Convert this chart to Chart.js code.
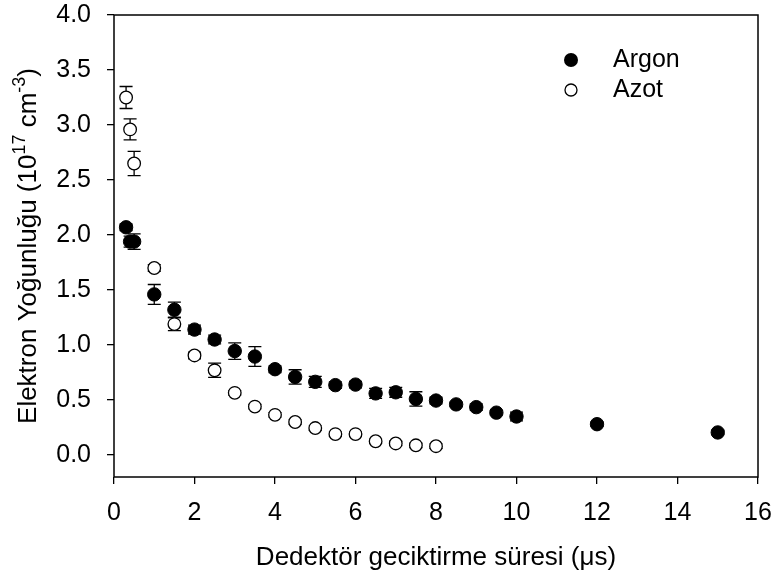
<!DOCTYPE html>
<html><head><meta charset="utf-8">
<script src="https://cdn.jsdelivr.net/npm/chart.js@4/dist/chart.umd.min.js"></script>
<style>html,body{margin:0;padding:0;background:#fff;} canvas{display:block;}</style>
</head><body>
<canvas id="c" width="775" height="578"></canvas>
<script>
// ---- data ----
const argonX   = [0.3, 0.4, 0.5, 1, 1.5, 2, 2.5, 3, 3.5, 4, 4.5, 5, 5.5, 6, 6.5, 7, 7.5, 8, 8.5, 9, 9.5, 10, 12, 15];
const argonY   = [2.07, 1.94, 1.94, 1.46, 1.32, 1.14, 1.05, 0.945, 0.895, 0.78, 0.71, 0.665, 0.635, 0.64, 0.56, 0.57, 0.51, 0.495, 0.46, 0.435, 0.385, 0.35, 0.28, 0.205];
const argonErr = [0.03, 0.05, 0.07, 0.09, 0.07, 0.04, 0.04, 0.075, 0.09, 0.03, 0.065, 0.05, 0.03, 0.03, 0.045, 0.045, 0.065, 0.03, 0.02, 0.03, 0.02, 0.04, 0.02, 0.02];
const azotX    = [0.3, 0.4, 0.5, 1, 1.5, 2, 2.5, 3, 3.5, 4, 4.5, 5, 5.5, 6, 6.5, 7, 7.5, 8];
const azotY    = [3.25, 2.96, 2.65, 1.70, 1.19, 0.905, 0.77, 0.565, 0.44, 0.365, 0.30, 0.245, 0.19, 0.19, 0.125, 0.105, 0.088, 0.08];
const azotErr  = [0.10, 0.095, 0.11, 0.03, 0.06, 0.03, 0.065, 0.02, 0.02, 0.02, 0.02, 0.02, 0.02, 0.02, 0.02, 0.02, 0.02, 0.02];
const seriesNames = ['Argon', 'Azot'];
const xTicks = [0, 2, 4, 6, 8, 10, 12, 14, 16];
const yTicks = [0, 0.5, 1.0, 1.5, 2.0, 2.5, 3.0, 3.5, 4.0];
const xTitle = 'Dedektör geciktirme süresi (\u03BCs)';
const yTitleParts = [['Elektron Yoğunluğu (10', false], ['17', true], [' cm', false], ['-3', true], [')', false]];

const FONT = '"Liberation Sans", Arial, sans-serif';

const toPoints = (xs, ys) => xs.map((x, i) => ({x: x, y: ys[i]}));

const errorBars = {
  id: 'errorBars',
  beforeDatasetsDraw(chart) {
    const ctx = chart.ctx, xs = chart.scales.x, ys = chart.scales.y;
    const errs = [argonErr, azotErr];
    ctx.save();
    ctx.strokeStyle = '#000';
    ctx.lineWidth = 1.3;
    chart.data.datasets.forEach((ds, di) => {
      ds.data.forEach((p, i) => {
        const e = errs[di][i];
        const px = xs.getPixelForValue(p.x);
        const y1 = ys.getPixelForValue(p.y + e), y2 = ys.getPixelForValue(p.y - e);
        ctx.beginPath();
        ctx.moveTo(px, y1); ctx.lineTo(px, y2);
        ctx.moveTo(px - 6.5, y1); ctx.lineTo(px + 6.5, y1);
        ctx.moveTo(px - 6.5, y2); ctx.lineTo(px + 6.5, y2);
        ctx.stroke();
      });
    });
    ctx.restore();
  }
};

const frameAndText = {
  id: 'frameAndText',
  afterDraw(chart) {
    const ctx = chart.ctx, a = chart.chartArea;
    ctx.save();
    ctx.strokeStyle = '#000';
    ctx.lineWidth = 1.5;
    ctx.strokeRect(a.left, a.top, a.right - a.left, a.bottom - a.top);

    // legend
    ctx.fillStyle = '#000';
    ctx.font = '25px ' + FONT;
    ctx.textBaseline = 'middle';
    ctx.textAlign = 'left';
    ctx.beginPath(); ctx.arc(571, 60, 7, 0, Math.PI * 2); ctx.fill();
    ctx.fillText(seriesNames[0], 613, 60);
    ctx.beginPath(); ctx.arc(571, 90, 6, 0, Math.PI * 2);
    ctx.fillStyle = '#fff'; ctx.fill();
    ctx.lineWidth = 1.3; ctx.strokeStyle = '#000'; ctx.stroke();
    ctx.fillStyle = '#000';
    ctx.fillText(seriesNames[1], 613, 90);

    // y title with superscripts
    const fMain = '26px ' + FONT, fSup = '18px ' + FONT;
    let total = 0;
    yTitleParts.forEach(([t, sup]) => { ctx.font = sup ? fSup : fMain; total += ctx.measureText(t).width; });
    ctx.translate(36, (a.top + a.bottom) / 2);
    ctx.rotate(-Math.PI / 2);
    ctx.textBaseline = 'alphabetic';
    let x = -total / 2;
    yTitleParts.forEach(([t, sup]) => {
      ctx.font = sup ? fSup : fMain;
      ctx.fillText(t, x, sup ? -11 : 0);
      x += ctx.measureText(t).width;
    });
    ctx.restore();
  }
};

new Chart(document.getElementById('c'), {
  type: 'scatter',
  data: {
    datasets: [
      {
        label: seriesNames[0],
        data: toPoints(argonX, argonY),
        pointRadius: 6.7,
        pointBackgroundColor: '#000',
        pointBorderColor: '#000',
        pointBorderWidth: 1,
        showLine: false,
        order: 1
      },
      {
        label: seriesNames[1],
        data: toPoints(azotX, azotY),
        pointRadius: 6.3,
        pointBackgroundColor: '#fff',
        pointBorderColor: '#000',
        pointBorderWidth: 1.3,
        showLine: false,
        order: 2
      }
    ]
  },
  options: {
    responsive: false,
    animation: false,
    devicePixelRatio: 1,
    layout: { padding: { top: 15, right: 17, left: 0, bottom: 0 } },
    plugins: { legend: { display: false }, tooltip: { enabled: false } },
    scales: {
      x: {
        type: 'linear',
        min: 0, max: 16,
        afterFit: s => { s.height = 101; s.paddingLeft = 0; s.paddingRight = 0; },
        afterBuildTicks: s => { s.ticks = xTicks.map(v => ({value: v})); },
        grid: { drawOnChartArea: false, drawTicks: true, tickLength: 7, color: '#000', lineWidth: 1.3 },
        border: { display: false },
        ticks: { color: '#000', padding: 14, maxRotation: 0, font: { size: 25, family: FONT }, callback: v => String(v) },
        title: { display: true, text: xTitle, color: '#000', font: { size: 26, family: FONT }, padding: { top: 0, bottom: 5 } }
      },
      y: {
        type: 'linear',
        min: -0.2, max: 4.0,
        afterFit: s => { s.width = 114; s.paddingTop = 0; s.paddingBottom = 0; },
        afterBuildTicks: s => { s.ticks = yTicks.map(v => ({value: v})); },
        grid: { drawOnChartArea: false, drawTicks: true, tickLength: 7, color: '#000', lineWidth: 1.3 },
        border: { display: false },
        ticks: { color: '#000', padding: 16, font: { size: 25, family: FONT }, callback: v => Number(v).toFixed(1) }
      }
    }
  },
  plugins: [errorBars, frameAndText]
});
</script>
</body></html>
